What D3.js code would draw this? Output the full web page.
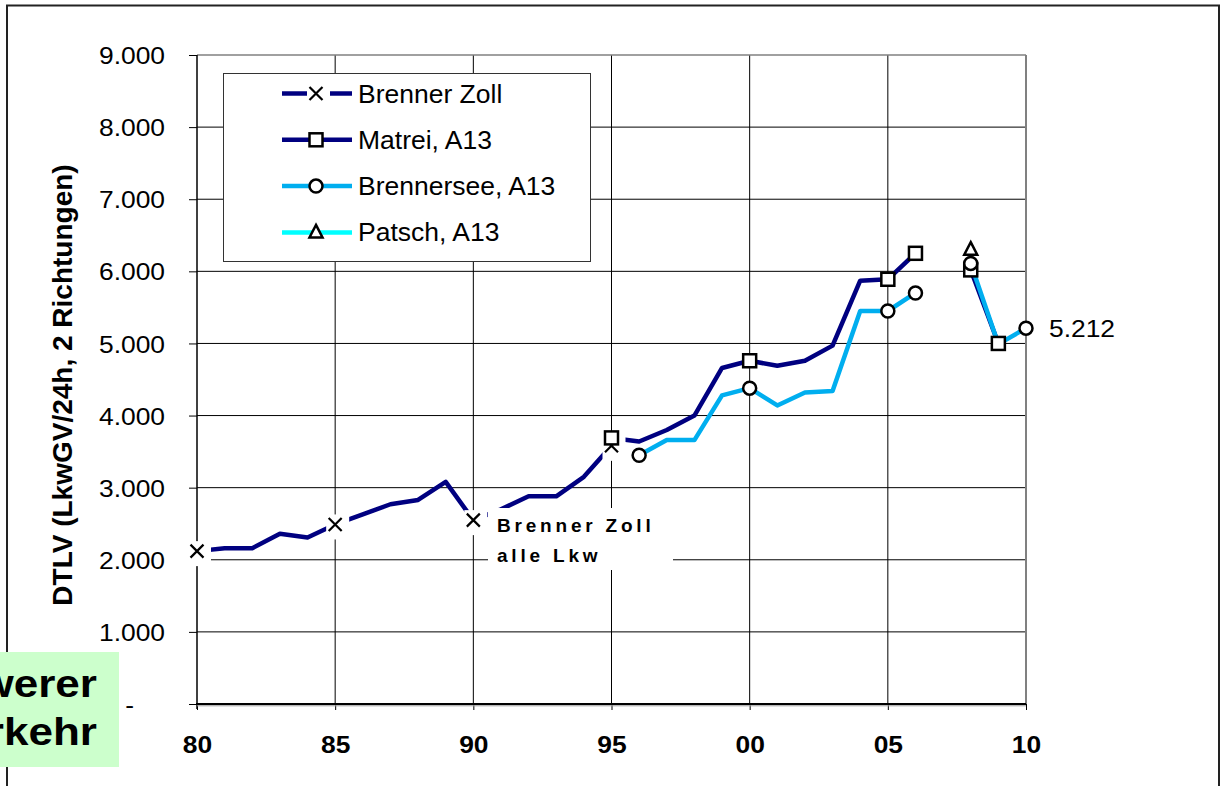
<!DOCTYPE html>
<html>
<head>
<meta charset="utf-8">
<script src="https://cdn.jsdelivr.net/npm/d3@7"></script>
<style>
  body { margin: 0; background: #fff; }
  svg { display: block; }
  text { font-family: "Liberation Sans", Arial, Helvetica, sans-serif; fill: #000; }
</style>
</head>
<body>
<svg id="chart" width="1227" height="786"></svg>
<script>
// ---- data (DTLV, heavy goods vehicles per 24h, both directions) ----
const zollYears   = [1980, 1981, 1982, 1983, 1984, 1985, 1986, 1987, 1988, 1989, 1990, 1991, 1992, 1993, 1994, 1995];
const zollValues  = [2120, 2160, 2160, 2360, 2310, 2490, 2630, 2770, 2830, 3080, 2550, 2700, 2880, 2880, 3150, 3580];
const zollMarked  = [1980, 1985, 1990, 1995];

const matreiYears  = [1995, 1996, 1997, 1998, 1999, 2000, 2001, 2002, 2003, 2004, 2005, 2006, 2007, 2008, 2009];
const matreiValues = [3690, 3640, 3800, 4000, 4660, 4760, 4690, 4760, 4970, 5870, 5890, 6250, null, 6020, 5000];
const matreiMarked = [1995, 2000, 2005, 2006, 2008, 2009];

const seeYears  = [1996, 1997, 1998, 1999, 2000, 2001, 2002, 2003, 2004, 2005, 2006, 2007, 2008, 2009, 2010];
const seeValues = [3450, 3660, 3660, 4280, 4380, 4140, 4320, 4340, 5450, 5450, 5700, null, 6110, 4990, 5212];
const seeMarked = [1996, 2000, 2005, 2006, 2008, 2010];

const patschYears  = [2008];
const patschValues = [6300];
const patschMarked = [2008];

const seriesNames = ["Brenner Zoll", "Matrei, A13", "Brennersee, A13", "Patsch, A13"];

const xTickValues = [1980, 1985, 1990, 1995, 2000, 2005, 2010];
const xTickLabels = ["80", "85", "90", "95", "00", "05", "10"];
const yTickValues = [0, 1000, 2000, 3000, 4000, 5000, 6000, 7000, 8000, 9000];
const yTickLabels = ["-", "1.000", "2.000", "3.000", "4.000", "5.000", "6.000", "7.000", "8.000", "9.000"];

const yTitle = "DTLV (LkwGV/24h, 2 Richtungen)";
const noteLines = ["Brenner Zoll", "alle Lkw"];
const sideLines = ["Schwerer", "Verkehr"];
const endValue = 5212;

// ---- styling ----
const NAVY = "#000080", LIGHT = "#00AEEF", CYAN = "#00FFFF";
const seriesColors = [NAVY, NAVY, LIGHT, CYAN];
const seriesMarkers = ["x", "square", "circle", "triangle"];
const WIDE = 1.1;   // text is set slightly wide

const svg = d3.select("#chart");
const x = d3.scaleLinear().domain([1980, 2010]).range([197, 1026]);
const y = d3.scaleLinear().domain([0, 9000]).range([704, 55]);

// horizontally widened text placed at (tx, ty)
function wideText(g, tx, ty, str, sx) {
  return g.append("text").attr("transform", `translate(${tx},${ty}) scale(${sx},1)`).text(str);
}

// outer frame
svg.append("rect").attr("x", 7).attr("y", 5.5).attr("width", 1212).attr("height", 900)
  .attr("fill", "none").attr("stroke", "#222").attr("stroke-width", 2);

// side box (left)
svg.append("rect").attr("x", -2).attr("y", 652).attr("width", 121).attr("height", 115).attr("fill", "#CCFFCC");
sideLines.forEach((s, i) => {
  wideText(svg, 97, 697 + i * 48, s, 1.13)
    .attr("text-anchor", "end").attr("font-weight", "bold").attr("font-size", 39);
});

// grid
const grid = svg.append("g");
grid.selectAll("line.h").data(yTickValues.filter(v => v > 0 && v < 9000)).join("line")
  .attr("x1", x(1980)).attr("x2", x(2010)).attr("y1", d => y(d)).attr("y2", d => y(d))
  .attr("stroke", "#000").attr("stroke-width", 1);
grid.selectAll("line.v").data(xTickValues.filter(v => v > 1980 && v < 2010)).join("line")
  .attr("x1", d => x(d)).attr("x2", d => x(d)).attr("y1", y(9000)).attr("y2", y(0))
  .attr("stroke", "#000").attr("stroke-width", 1);
// plot frame (top / right)
svg.append("line").attr("x1", x(1980)).attr("x2", x(2010)).attr("y1", y(9000)).attr("y2", y(9000))
  .attr("stroke", "#808080").attr("stroke-width", 1.5);
svg.append("line").attr("x1", x(2010)).attr("x2", x(2010)).attr("y1", y(9000)).attr("y2", y(0))
  .attr("stroke", "#808080").attr("stroke-width", 2);

// axes
const yAxis = svg.append("g").attr("transform", `translate(${x(1980)},0)`)
  .call(d3.axisLeft(y).tickValues(yTickValues).tickFormat((d, i) => yTickLabels[i]).tickSize(8));
yAxis.select(".domain").remove();
yAxis.selectAll(".tick line").attr("stroke", "#000").attr("stroke-width", 1);
yAxis.selectAll(".tick text")
  .attr("x", -32 / WIDE).attr("dy", "0.36em")
  .attr("dx", (d, i) => yTickLabels[i] === "-" ? -31 / WIDE : 0)
  .attr("transform", `scale(${WIDE},1)`)
  .attr("font-size", 24).attr("font-family", null).attr("fill", "#000");
svg.append("line").attr("x1", x(1980)).attr("x2", x(1980)).attr("y1", y(9000)).attr("y2", y(0) + 5)
  .attr("stroke", "#000").attr("stroke-width", 1.5);

const xAxis = svg.append("g").attr("transform", `translate(0,${y(0)})`)
  .call(d3.axisBottom(x).tickValues(xTickValues).tickFormat((d, i) => xTickLabels[i]).tickSize(6));
xAxis.select(".domain").remove();
xAxis.selectAll(".tick line").attr("stroke", "#000").attr("stroke-width", 1);
xAxis.selectAll(".tick text").attr("y", 49).attr("dy", 0)
  .attr("transform", `scale(${WIDE},1)`)
  .attr("font-size", 24).attr("font-weight", "bold").attr("font-family", null).attr("fill", "#000");
svg.append("line").attr("x1", x(1980) - 1).attr("x2", x(2010)).attr("y1", y(0)).attr("y2", y(0))
  .attr("stroke", "#000").attr("stroke-width", 2);
svg.append("line").attr("x1", x(1980)).attr("x2", x(2010)).attr("y1", y(0) + 1.8).attr("y2", y(0) + 1.8)
  .attr("stroke", "#999").attr("stroke-width", 1);

// y title
svg.append("text").attr("transform", `translate(72,385) rotate(-90)`)
  .attr("text-anchor", "middle").attr("font-weight", "bold").attr("font-size", 28)
  .text(yTitle);

// ---- series ----
const zip = (ys, vs) => ys.map((yr, i) => ({ yr, v: vs[i] }));
const series = [
  { pts: zip(zollYears, zollValues), marked: zollMarked },
  { pts: zip(matreiYears, matreiValues), marked: matreiMarked },
  { pts: zip(seeYears, seeValues), marked: seeMarked },
  { pts: zip(patschYears, patschValues), marked: patschMarked }
];
const line = d3.line().defined(d => d.v != null).x(d => x(d.yr)).y(d => y(d.v));

const lines = svg.append("g");
series.forEach((s, i) => {
  lines.append("path").attr("d", line(s.pts)).attr("fill", "none")
    .attr("stroke", seriesColors[i]).attr("stroke-width", 4.5)
    .attr("stroke-linejoin", "round");
});

// marker drawing
function drawMarker(g, type, cx, cy) {
  const m = g.append("g").attr("transform", `translate(${cx},${cy})`);
  if (type === "x") {
    m.append("path").attr("d", "M-6.5,-6.5L6.5,6.5M-6.5,6.5L6.5,-6.5")
      .attr("stroke", "#000").attr("stroke-width", 2.2).attr("fill", "none");
  } else if (type === "square") {
    m.append("rect").attr("x", -6.5).attr("y", -6.5).attr("width", 13).attr("height", 13)
      .attr("fill", "#fff").attr("stroke", "#000").attr("stroke-width", 2.5);
  } else if (type === "circle") {
    m.append("circle").attr("r", 6.5).attr("fill", "#fff").attr("stroke", "#000").attr("stroke-width", 2.5);
  } else {
    m.append("path").attr("d", "M0,-7.5L6.5,5L-6.5,5Z")
      .attr("fill", "#fff").attr("stroke", "#000").attr("stroke-width", 2.5).attr("stroke-linejoin", "miter");
  }
}
// white ground behind the cross markers
function crossGround(g, cx, cy) {
  g.append("rect").attr("x", cx - 9).attr("y", cy - 10).attr("width", 23).attr("height", 25).attr("fill", "#fff");
}

const marks = svg.append("g");
series[0].pts.filter(d => zollMarked.includes(d.yr))
  .forEach(d => crossGround(marks, x(d.yr), y(d.v)));

// note box
const note = svg.append("g");
note.append("rect").attr("x", 488).attr("y", 508).attr("width", 185).attr("height", 62).attr("fill", "#fff");
note.selectAll("text").data(noteLines).join("text")
  .attr("x", 497).attr("y", (d, i) => 532 + i * 30)
  .attr("font-weight", "bold").attr("font-size", 19).attr("letter-spacing", 3.8)
  .text(d => d);

series.forEach((s, i) => {
  s.pts.filter(d => d.v != null && s.marked.includes(d.yr))
    .forEach(d => drawMarker(marks, seriesMarkers[i], x(d.yr), y(d.v)));
});

// value label at the last point
wideText(svg, x(2010) + 23, y(endValue) + 8.5, d3.format(",")(endValue).replace(",", "."), WIDE)
  .attr("font-size", 24);

// ---- legend ----
const lg = svg.append("g");
lg.append("rect").attr("x", 223.5).attr("y", 73.5).attr("width", 367).attr("height", 188)
  .attr("fill", "#fff").attr("stroke", "#333").attr("stroke-width", 1);
seriesNames.forEach((name, i) => {
  const ry = 93.5 + i * 46.3;
  lg.append("line").attr("x1", 282).attr("x2", 352).attr("y1", ry).attr("y2", ry)
    .attr("stroke", seriesColors[i]).attr("stroke-width", 4.5);
  if (i === 0) crossGround(lg, 316, ry);
  drawMarker(lg, seriesMarkers[i], 316, ry);
  wideText(lg, 358, ry + 9, name, 1.06).attr("font-size", 25);
});
</script>
</body>
</html>
